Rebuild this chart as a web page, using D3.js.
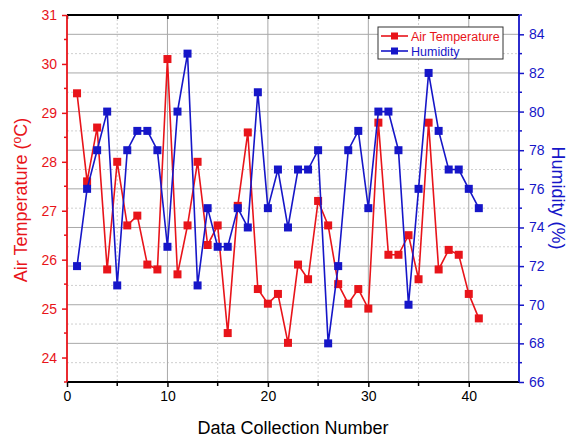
<!DOCTYPE html>
<html>
<head>
<meta charset="utf-8">
<script src="https://cdn.jsdelivr.net/npm/d3@7"></script>
<style>
  html, body { margin: 0; padding: 0; background: #fff; }
  svg { display: block; font-family: "Liberation Sans", Arial, sans-serif; }
</style>
</head>
<body>
<svg id="chart" width="571" height="439"></svg>
<script>
// Collection index for each reading
const sampleNumbers = d3.range(1, 42);

// Air temperature readings (°C)
const airTemperature = [
  29.4, 27.6, 28.7, 25.8, 28.0, 26.7, 26.9, 25.9, 25.8, 30.1,
  25.7, 26.7, 28.0, 26.3, 26.7, 24.5, 27.1, 28.6, 25.4, 25.1,
  25.3, 24.3, 25.9, 25.6, 27.2, 26.7, 25.5, 25.1, 25.4, 25.0,
  28.8, 26.1, 26.1, 26.5, 25.6, 28.8, 25.8, 26.2, 26.1, 25.3,
  24.8
];

// Relative humidity readings (%)
const humidity = [
  72, 76, 78, 80, 71, 78, 79, 79, 78, 73,
  80, 83, 71, 75, 73, 73, 75, 74, 81, 75,
  77, 74, 77, 77, 78, 68, 72, 78, 79, 75,
  80, 80, 78, 70, 76, 82, 79, 77, 77, 76,
  75
];

// Tick values
const xTicks = [0, 10, 20, 30, 40];
const xMinorTicks = [5, 15, 25, 35];
const tempTicks = [24, 25, 26, 27, 28, 29, 30, 31];
const tempMinorTicks = [23.5, 24.5, 25.5, 26.5, 27.5, 28.5, 29.5, 30.5];
const humTicks = [66, 68, 70, 72, 74, 76, 78, 80, 82, 84];
const humMinorTicks = [67, 69, 71, 73, 75, 77, 79, 81, 83];

const RED = "#e8141a";
const BLUE = "#1616c8";

const svg = d3.select("#chart");
const plotL = 67, plotR = 519, plotT = 15, plotB = 382;

const x = d3.scaleLinear().domain([0, 45]).range([plotL, plotR]);
const yT = d3.scaleLinear().domain([23.5, 31]).range([plotB, plotT]);
const yH = d3.scaleLinear().domain([66, 85]).range([plotB, plotT]);

// Grid
const grid = svg.append("g");
grid.selectAll(".hmaj").data(humTicks.filter(v => v > 66)).join("line")
  .attr("x1", plotL).attr("x2", plotR)
  .attr("y1", d => yH(d)).attr("y2", d => yH(d))
  .attr("stroke", "#a8a8a8").attr("stroke-width", 1);
grid.selectAll(".hmin").data(humMinorTicks).join("line")
  .attr("x1", plotL).attr("x2", plotR)
  .attr("y1", d => yH(d)).attr("y2", d => yH(d))
  .attr("stroke", "#cfcfcf").attr("stroke-width", 1).attr("stroke-dasharray", "2,2");
grid.selectAll(".vmaj").data(xTicks.filter(v => v > 0)).join("line")
  .attr("x1", d => x(d)).attr("x2", d => x(d))
  .attr("y1", plotT).attr("y2", plotB)
  .attr("stroke", "#a8a8a8").attr("stroke-width", 1);
grid.selectAll(".vmin").data(xMinorTicks).join("line")
  .attr("x1", d => x(d)).attr("x2", d => x(d))
  .attr("y1", plotT).attr("y2", plotB)
  .attr("stroke", "#cfcfcf").attr("stroke-width", 1).attr("stroke-dasharray", "2,2");

// Series
function drawSeries(values, yScale, color) {
  const pts = values.map((v, i) => [sampleNumbers[i], v]);
  const g = svg.append("g");
  g.append("path")
    .datum(pts)
    .attr("fill", "none")
    .attr("stroke", color)
    .attr("stroke-width", 1.6)
    .attr("d", d3.line().x(d => x(d[0])).y(d => yScale(d[1])));
  g.selectAll("rect").data(pts).join("rect")
    .attr("x", d => x(d[0]) - 4)
    .attr("y", d => yScale(d[1]) - 4)
    .attr("width", 8).attr("height", 8)
    .attr("fill", color);
}
drawSeries(airTemperature, yT, RED);
drawSeries(humidity, yH, BLUE);

// Axes
const fs = "14px";
const fam = "Liberation Sans, Arial, sans-serif";

// bottom
const xAxis = svg.append("g").attr("transform", `translate(0,${plotB})`)
  .call(d3.axisBottom(x).tickValues(xTicks).tickSize(5).tickPadding(4).tickFormat(d3.format("d")));
xAxis.append("g").selectAll("line").data(xMinorTicks).join("line")
  .attr("x1", d => x(d)).attr("x2", d => x(d)).attr("y1", 0).attr("y2", 4)
  .attr("stroke", "#000").attr("stroke-width", 1.5);
xAxis.select(".domain").attr("d", `M${plotL},0H${plotR}`).attr("stroke", "#000").attr("stroke-width", 1.8);
xAxis.selectAll(".tick line").attr("stroke", "#000").attr("stroke-width", 1.5);
xAxis.selectAll("text").attr("fill", "#000").style("font-size", fs).style("font-family", fam);

// top
const xTop = svg.append("g").attr("transform", `translate(0,${plotT})`)
  .call(d3.axisBottom(x).tickValues(xTicks.concat(xMinorTicks)).tickSize(4).tickFormat(""));
xTop.select(".domain").attr("d", `M${plotL},0H${plotR}`).attr("stroke", "#000").attr("stroke-width", 1.8);
xTop.selectAll(".tick line").attr("stroke", "#000").attr("stroke-width", 1.5);

// left (temperature)
const yAxisL = svg.append("g").attr("transform", `translate(${plotL},0)`)
  .call(d3.axisLeft(yT).tickValues(tempTicks).tickSize(5).tickPadding(5).tickFormat(d3.format("d")));
yAxisL.append("g").selectAll("line").data(tempMinorTicks).join("line")
  .attr("x1", -3).attr("x2", 0).attr("y1", d => yT(d)).attr("y2", d => yT(d))
  .attr("stroke", RED).attr("stroke-width", 1.5);
yAxisL.select(".domain").attr("d", `M0,${plotT}V${plotB}`).attr("stroke", RED).attr("stroke-width", 1.8);
yAxisL.selectAll(".tick line").attr("stroke", RED).attr("stroke-width", 1.5);
yAxisL.selectAll("text").attr("fill", RED).style("font-size", fs).style("font-family", fam);

// right (humidity)
const yAxisR = svg.append("g").attr("transform", `translate(${plotR},0)`)
  .call(d3.axisRight(yH).tickValues(humTicks).tickSize(5).tickPadding(5).tickFormat(d3.format("d")));
yAxisR.append("g").selectAll("line").data(humMinorTicks.concat([85])).join("line")
  .attr("x1", 0).attr("x2", 3).attr("y1", d => yH(d)).attr("y2", d => yH(d))
  .attr("stroke", BLUE).attr("stroke-width", 1.5);
yAxisR.select(".domain").attr("d", `M0,${plotT}V${plotB}`).attr("stroke", BLUE).attr("stroke-width", 1.8);
yAxisR.selectAll(".tick line").attr("stroke", BLUE).attr("stroke-width", 1.5);
yAxisR.selectAll("text").attr("fill", BLUE).style("font-size", fs).style("font-family", fam);

// Axis titles
svg.append("text")
  .attr("x", (plotL + plotR) / 2).attr("y", 434)
  .attr("text-anchor", "middle")
  .style("font-size", "18px").attr("fill", "#000")
  .text("Data Collection Number");

const tTitle = svg.append("text")
  .attr("transform", "translate(27,200) rotate(-90)")
  .attr("text-anchor", "middle")
  .style("font-size", "18px").attr("fill", RED);
tTitle.append("tspan").text("Air Temperature (");
tTitle.append("tspan").attr("dy", -6).style("font-size", "12px").text("o");
tTitle.append("tspan").attr("dy", 6).text("C)");

svg.append("text")
  .attr("transform", "translate(552,198) rotate(90)")
  .attr("text-anchor", "middle")
  .style("font-size", "18px").attr("fill", BLUE)
  .text("Humidity (%)");

// Legend
const legend = svg.append("g").attr("transform", "translate(378,27)");
legend.append("rect").attr("width", 125).attr("height", 32)
  .attr("fill", "#fff").attr("stroke", "#333").attr("stroke-width", 1);
const items = [["Air Temperature", RED], ["Humidity", BLUE]];
items.forEach(([label, color], i) => {
  const cy = 9 + i * 15;
  legend.append("line").attr("x1", 3).attr("x2", 30).attr("y1", cy).attr("y2", cy)
    .attr("stroke", color).attr("stroke-width", 1.6);
  legend.append("rect").attr("x", 13).attr("y", cy - 3.5).attr("width", 7).attr("height", 7).attr("fill", color);
  legend.append("text").attr("x", 33).attr("y", cy + 4.5)
    .style("font-size", "12.5px").attr("fill", color).text(label);
});
</script>
</body>
</html>
